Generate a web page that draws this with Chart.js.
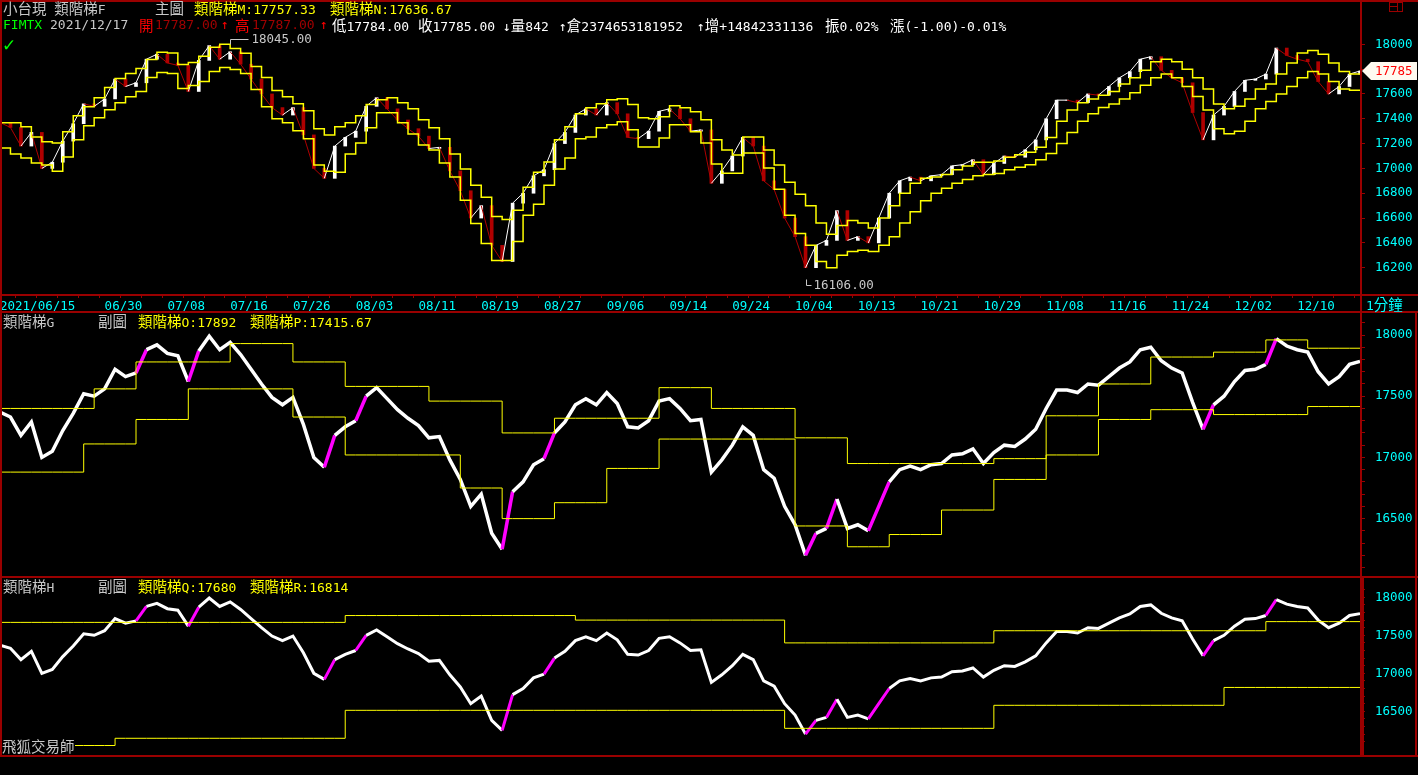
<!DOCTYPE html>
<html>
<head>
<meta charset="utf-8">
<script src="https://cdn.jsdelivr.net/npm/chart.js@4.4.1/dist/chart.umd.min.js"></script>
<style>
  html, body { margin: 0; padding: 0; background: #000; }
  body { position: relative; width: 1418px; height: 775px; overflow: hidden; }
  canvas { position: absolute; left: 0; }
  .txt { position: absolute; white-space: pre; font: 13px 'DejaVu Sans Mono', monospace; line-height: 15px; z-index: 3; }
  .txt .k { font-family: 'Noto Sans CJK TC', sans-serif; font-size: 14.5px; }
  .ln { position: absolute; background: #9a0000; z-index: 2; }
</style>
</head>
<body>
<canvas id="main-chart" style="top:0" width="1418" height="312"></canvas>
<canvas id="g-chart" style="top:312px" width="1418" height="265"></canvas>
<canvas id="h-chart" style="top:577px" width="1418" height="179"></canvas>
<script>
// date labels on the time axis and the bar index where each one sits
const dateLabels = ['2021/06/15', '06/30', '07/08', '07/16', '07/26', '08/03', '08/11', '08/19', '08/27', '09/06',
    '09/14', '09/24', '10/04', '10/13', '10/21', '10/29', '11/08', '11/16', '11/24', '12/02', '12/10']
const dateTickIdx = [0, 10, 16, 22, 28, 34, 40, 46, 52, 58, 64, 70, 76, 82, 88, 94, 100, 106, 112, 118, 124]

// 小台現 close, one value per step
const closes = [
    17370, 17330, 17180, 17290, 17000, 17050, 17220, 17360, 17520, 17500,
    17560, 17720, 17660, 17690, 17880, 17920, 17850, 17830, 17620, 17870,
    17990, 17880, 17940, 17840, 17720, 17600, 17490, 17430, 17490, 17270,
    17000, 16920, 17180, 17250, 17300, 17500, 17570, 17480, 17390, 17320,
    17260, 17160, 17170, 16980, 16820, 16600, 16700, 16380, 16250, 16720,
    16800, 16940, 16990, 17200, 17290, 17430, 17480, 17430, 17530, 17440,
    17250, 17240, 17300, 17460, 17480, 17400, 17300, 17310, 16880, 16980,
    17100, 17250, 17180, 16900, 16830, 16600, 16450, 16200, 16380, 16420,
    16660, 16420, 16450, 16400, 16600, 16800, 16900, 16930, 16900, 16940,
    16950, 17020, 17030, 17070, 16950, 17040, 17100, 17090, 17150, 17230,
    17400, 17550, 17550, 17530, 17600, 17590, 17660, 17730, 17780, 17880,
    17900, 17790, 17730, 17690, 17450, 17230, 17430, 17500, 17620, 17710,
    17720, 17760, 17970, 17910, 17880, 17860, 17700, 17600, 17660, 17760,
    17785]

// 類階梯M / 類階梯N (main chart)
const stepM = [
    17368, 17368, 17335, 17254, 17214, 17205, 17295, 17424, 17497, 17570,
    17651, 17724, 17765, 17805, 17878, 17935, 17930, 17838, 17854, 17903,
    17976, 18000, 17967, 17927, 17822, 17732, 17627, 17578, 17522, 17465,
    17319, 17270, 17335, 17368, 17424, 17514, 17554, 17570, 17530, 17481,
    17392, 17327, 17238, 17116, 16995, 16865, 16768, 16613, 16589, 16662,
    16849, 16970, 17051, 17230, 17335, 17441, 17489, 17522, 17554, 17562,
    17514, 17408, 17400, 17416, 17505, 17489, 17457, 17392, 17230, 17149,
    17108, 17254, 17254, 17149, 17027, 16889, 16792, 16700, 16560, 16470,
    16540, 16580, 16560, 16520, 16600, 16700, 16800, 16880, 16920, 16930,
    16950, 16990, 17020, 17050, 17050, 17060, 17090, 17110, 17130, 17170,
    17250, 17380, 17470, 17530, 17560, 17590, 17620, 17680, 17730, 17790,
    17860, 17880, 17860, 17800, 17730, 17640, 17520, 17480, 17500, 17560,
    17640, 17680, 17760, 17850, 17930, 17950, 17920, 17850, 17780, 17760,
    17757.33]
const stepN = [
    17165, 17116, 17084, 17043, 17027, 16978, 17092, 17230, 17343, 17408,
    17473, 17530, 17578, 17619, 17732, 17773, 17765, 17643, 17668, 17700,
    17781, 17813, 17797, 17765, 17635, 17497, 17400, 17368, 17303, 17238,
    17027, 16978, 16970, 17116, 17205, 17327, 17449, 17449, 17368, 17278,
    17189, 17149, 17043, 16930, 16743, 16557, 16395, 16257, 16257, 16411,
    16622, 16711, 16865, 16995, 17084, 17238, 17254, 17327, 17351, 17376,
    17311, 17173, 17173, 17246, 17351, 17351, 17295, 17205, 17035, 16962,
    16962, 17124, 17124, 17003, 16832, 16622, 16476, 16380, 16250, 16200,
    16300, 16330, 16340, 16330, 16380, 16450, 16560, 16650, 16740, 16800,
    16840, 16880, 16910, 16940, 16950, 16960, 16990, 17010, 17030, 17070,
    17120, 17200, 17290, 17380, 17440, 17490, 17520, 17560, 17610, 17670,
    17730, 17760, 17730, 17660, 17580, 17470, 17320, 17280, 17300, 17380,
    17480, 17540, 17600, 17660, 17730, 17780, 17760, 17700, 17640, 17630,
    17636.67]

// 類階梯O / P (副圖 G) and Q / R (副圖 H): start index of each step and its level
const stepOStart = [0, 3, 9, 13, 22, 28, 33, 41, 48, 53, 63, 68, 76, 81, 95, 100, 105, 110, 116, 121, 125]
const stepOLevel = [17400, 17400, 17560, 17780, 17930, 17780, 17580, 17460, 17200, 17320, 17570, 17400, 17160, 16950, 16990, 17340, 17600, 17820, 17860, 17960, 17892]
const stepPStart = [0, 8, 13, 18, 28, 33, 44, 48, 53, 58, 63, 76, 81, 85, 90, 95, 100, 105, 110, 116, 125]
const stepPLevel = [16880, 17110, 17310, 17560, 17330, 17020, 16750, 16500, 16630, 16910, 17150, 16440, 16270, 16370, 16570, 16820, 17020, 17310, 17390, 17350, 17415.67]
const stepQStart = [0, 33, 55, 75, 95, 121]
const stepQLevel = [17670, 17760, 17700, 17400, 17560, 17680]
const stepRStart = [0, 11, 33, 75, 95, 117]
const stepRLevel = [16050, 16145, 16513, 16276, 16579, 16814]

// marked extremes and axis ticks
const peakIndex = 22, peakValue = 18045
const troughIndex = 77, troughValue = 16106
const mainTicks = [16200, 16400, 16600, 16800, 17000, 17200, 17400, 17600, 17800, 18000]
const subLabels = [16500, 17000, 17500, 18000]

const RED = '#9a0000'
const YELLOW = '#ffff00'
const CYAN = '#00ffff'
const tickFont = { family: 'DejaVu Sans Mono', size: 12.5 }

const expand_runs = (starts, levels) => closes.map((c, i) => {
    let k = 0
    while (k + 1 < starts.length && starts[k + 1] <= i) k++
    return levels[k]
})

const x_scale = (show) => ({
    type: 'category',
    offset: false,
    display: show,
    grid: {
        drawOnChartArea: false,
        tickLength: 3,
        tickColor: (c) => c.index % 2 ? 'rgba(0,0,0,0)' : RED
    },
    border: { display: false },
    ticks: {
        autoSkip: false, maxRotation: 0, minRotation: 0, align: 'start', padding: 1,
        color: CYAN, font: tickFont,
        callback: (v, i) => {
            let k = dateTickIdx.indexOf(i)
            return k < 0 ? '' : dateLabels[k]
        }
    },
    afterFit: (s) => {
        s.height = show ? 17 : 0
        s.paddingLeft = 0
        s.paddingRight = 0
    }
})

const y_scale = (min, max, tickVals, labelVals) => ({
    position: 'right',
    min: min, max: max,
    afterBuildTicks: (s) => { s.ticks = tickVals.map(v => ({ value: v })) },
    grid: { drawOnChartArea: false, tickLength: 5, tickColor: RED },
    border: { display: false },
    ticks: {
        color: CYAN, padding: 10, font: tickFont, autoSkip: false,
        callback: (v) => labelVals.includes(v) ? String(v) : ''
    },
    afterFit: (s) => { s.width = 58; s.paddingTop = 0; s.paddingBottom = 0 }
})

const step_line = (data, width) => ({
    type: 'line', data: data, stepped: true, borderColor: YELLOW, borderWidth: width,
    pointRadius: 0, fill: false, order: 0
})

// sub charts: white close line, sharp rises in magenta
const price_line = (width) => ({
    type: 'line', data: closes, borderWidth: width, pointRadius: 0, order: 2,
    borderColor: '#ffffff',
    segment: {
        borderColor: (ctx) => ctx.p1.parsed.y - ctx.p0.parsed.y > 170 ? '#ff00ff' : '#ffffff'
    }
})

const base_options = (scales) => ({
    responsive: false,
    animation: false,
    events: [],
    layout: { padding: 0 },
    plugins: { legend: { display: false }, tooltip: { enabled: false }, title: { display: false } },
    scales: scales
})

const marks_plugin = {
    id: 'marks',
    afterDatasetsDraw(chart) {
        const { ctx, scales: { x, y } } = chart
        ctx.save()
        ctx.font = '12.5px "DejaVu Sans Mono"'
        ctx.textBaseline = 'middle'
        ctx.strokeStyle = '#c8c8c8'
        ctx.fillStyle = '#c8c8c8'
        ctx.lineWidth = 1
        let px = Math.round(x.getPixelForValue(peakIndex)) + 0.5
        let py = Math.round(y.getPixelForValue(peakValue)) + 0.5
        ctx.beginPath(); ctx.moveTo(px, py + 5); ctx.lineTo(px, py); ctx.lineTo(px + 18, py); ctx.stroke()
        ctx.fillText(peakValue.toFixed(2), px + 21, py)
        px = Math.round(x.getPixelForValue(troughIndex)) + 0.5
        py = Math.round(y.getPixelForValue(troughValue)) + 0.5
        ctx.beginPath(); ctx.moveTo(px, py); ctx.lineTo(px, py + 6); ctx.lineTo(px + 5, py + 6); ctx.stroke()
        ctx.fillText(troughValue.toFixed(2), px + 7, py + 6)
        ctx.restore()
    },
    afterDraw(chart) {
        const { ctx, chartArea, scales: { y } } = chart
        const last = closes[closes.length - 1]
        const ty = Math.round(y.getPixelForValue(last))
        const left = chartArea.right + 2
        ctx.save()
        ctx.fillStyle = '#fffaf0'
        ctx.beginPath()
        ctx.moveTo(left, ty); ctx.lineTo(left + 9, ty - 9); ctx.lineTo(1417, ty - 9)
        ctx.lineTo(1417, ty + 9); ctx.lineTo(left + 9, ty + 9); ctx.closePath(); ctx.fill()
        ctx.fillStyle = '#ff0000'
        ctx.font = '12.5px "DejaVu Sans Mono"'
        ctx.textBaseline = 'middle'
        ctx.fillText(String(last), left + 13, ty + 1)
        ctx.restore()
    }
}

const labels = closes.map((c, i) => String(i))

new Chart(document.getElementById('main-chart'), {
    type: 'line',
    data: {
        labels: labels,
        datasets: [
            {
                type: 'bar',
                data: closes.map((c, i) => [i ? closes[i - 1] : c, c]),
                backgroundColor: closes.map((c, i) => i && c < closes[i - 1] ? '#b00000' : '#ffffff'),
                barThickness: 3, order: 3
            },
            {
                type: 'line', data: closes, borderWidth: 1, pointRadius: 0, order: 2,
                borderColor: '#ffffff',
                segment: { borderColor: (ctx) => ctx.p1.parsed.y < ctx.p0.parsed.y ? '#b00000' : '#ffffff' }
            },
            step_line(stepM, 1.5),
            step_line(stepN, 1.5)
        ]
    },
    options: base_options({ x: x_scale(true), y: y_scale(15980, 18357, mainTicks, mainTicks) }),
    plugins: [marks_plugin]
})

const subTicks = []
for (let v = 16100; v <= 18100; v += 100) subTicks.push(v)

new Chart(document.getElementById('g-chart'), {
    type: 'line',
    data: {
        labels: labels,
        datasets: [price_line(3.5), step_line(expand_runs(stepOStart, stepOLevel), 1), step_line(expand_runs(stepPStart, stepPLevel), 1)]
    },
    options: base_options({ x: x_scale(false), y: y_scale(16023, 18188, subTicks, subLabels) })
})

new Chart(document.getElementById('h-chart'), {
    type: 'line',
    data: {
        labels: labels,
        datasets: [price_line(3), step_line(expand_runs(stepQStart, stepQLevel), 1), step_line(expand_runs(stepRStart, stepRLevel), 1)]
    },
    options: base_options({ x: x_scale(false), y: y_scale(15912, 18267, subTicks, subLabels) })
})

// header texts and frame
const texts = [
    [3, 0, '小台現 類階梯F', '#c8c8c8'],
    [155, 0, '主圖', '#c8c8c8'],
    [194, 0, '類階梯M:17757.33', YELLOW],
    [330, 0, '類階梯N:17636.67', YELLOW],
    [3, 17, 'FIMTX', '#00ff00'],
    [50, 17, '2021/12/17', '#c8c8c8'],
    [139, 17, '開', '#ff0000'],
    [155, 17, '17787.00', '#a00000'],
    [221, 17, '↑', '#ff0000'],
    [235, 17, '高', '#ff0000'],
    [252, 17, '17787.00', '#a00000'],
    [320, 17, '↑', '#ff0000'],
    [332, 17, '低17784.00', '#ffffff'],
    [418, 17, '收17785.00', '#ffffff'],
    [503, 17, '↓量842', '#ffffff'],
    [559, 17, '↑倉2374653181952', '#ffffff'],
    [697, 17, '↑增+14842331136', '#ffffff'],
    [825, 17, '振0.02%', '#ffffff'],
    [890, 17, '漲(-1.00)-0.01%', '#ffffff'],
    [1366, 296, '1分鐘', CYAN],
    [3, 313, '類階梯G', '#c8c8c8'],
    [98, 313, '副圖', '#c8c8c8'],
    [138, 313, '類階梯O:17892', YELLOW],
    [250, 313, '類階梯P:17415.67', YELLOW],
    [3, 578, '類階梯H', '#c8c8c8'],
    [98, 578, '副圖', '#c8c8c8'],
    [138, 578, '類階梯Q:17680', YELLOW],
    [250, 578, '類階梯R:16814', YELLOW],
    [2, 738, '飛狐交易師', '#c8c8c8']
]
texts.forEach(([x, y, s, color]) => {
    const d = document.createElement('div')
    d.className = 'txt'
    d.style.left = x + 'px'
    d.style.top = y + 'px'
    d.style.color = color
    if (s === '飛狐交易師') d.style.background = '#000'
    d.innerHTML = s.replace(/([\u2e80-\u9fff\uff00-\uffef]+)/g, '<span class="k">$1</span>')
    document.body.appendChild(d)
})

// green check mark under the quote line
const check = document.createElement('div')
check.className = 'txt'
check.style.cssText = 'left:2px;top:36px;color:#00ff00;font:bold 17px "DejaVu Sans";line-height:18px'
check.textContent = '✓'
document.body.appendChild(check)

const lines = [
    [0, 0, 1418, 2], [0, 0, 2, 757], [1360, 0, 2, 757],
    [0, 294, 1418, 2], [0, 311, 1418, 2], [0, 576, 1418, 2], [0, 755, 1418, 2],
    [1415, 311, 2, 446], [1362, 578, 2, 178],
    // window icon top right
    [1389, 2, 14, 1], [1389, 11, 14, 1], [1389, 2, 1, 10], [1402, 2, 1, 10], [1397, 2, 1, 10], [1389, 6, 8, 1]
]
lines.forEach(([x, y, w, h]) => {
    const d = document.createElement('div')
    d.className = 'ln'
    d.style.left = x + 'px'; d.style.top = y + 'px'
    d.style.width = w + 'px'; d.style.height = h + 'px'
    document.body.appendChild(d)
})
</script>
</body>
</html>
